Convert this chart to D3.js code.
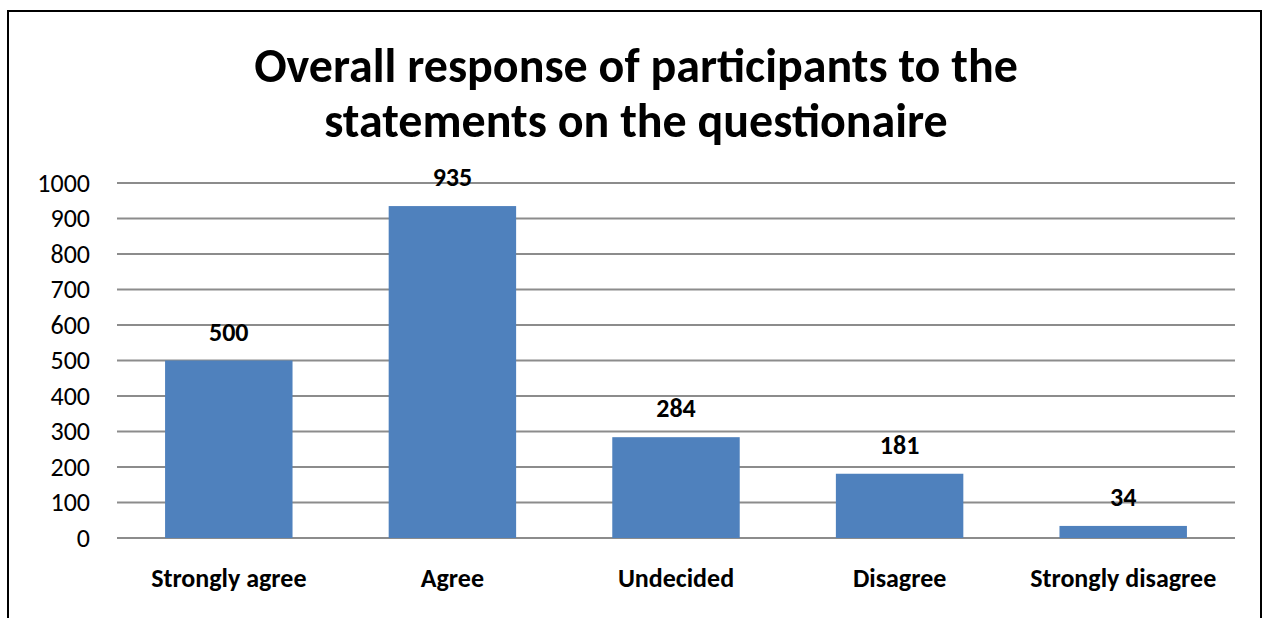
<!DOCTYPE html>
<html>
<head>
<meta charset="utf-8">
<script src="https://cdn.jsdelivr.net/npm/d3@7"></script>
<style>
  body { margin: 0; background: #fff; }
  svg text { font-family: Carlito, Calibri, 'Open Sans', sans-serif; }
</style>
</head>
<body>
<div id="chart"></div>
<script>
const categories = ['Strongly agree', 'Agree', 'Undecided', 'Disagree', 'Strongly disagree'];
const responses = [500, 935, 284, 181, 34];
const yTicks = [0, 100, 200, 300, 400, 500, 600, 700, 800, 900, 1000];
const titleLines = ['Overall response of participants to the', 'statements on the questionaire'];

const W = 1265, H = 618;
const plot = { left: 117, right: 1235, top: 183, bottom: 538 };
const fontStack = "Carlito, Calibri, 'Open Sans', sans-serif";

const svg = d3.select('#chart')
  .append('svg')
  .attr('width', W)
  .attr('height', H);

// outer frame (bottom edge is cut off in the picture)
svg.append('path')
  .attr('d', `M8,${H + 5} V11 H1261 V${H + 5}`)
  .attr('fill', 'none')
  .attr('stroke', '#000')
  .attr('stroke-width', 2);

const x = d3.scaleBand()
  .domain(categories)
  .range([plot.left, plot.right])
  .paddingInner(0.43)
  .paddingOuter(0.215);

const y = d3.scaleLinear()
  .domain([0, 1000])
  .range([plot.bottom, plot.top]);

// gridlines
svg.append('g')
  .selectAll('line')
  .data(yTicks)
  .enter()
  .append('line')
  .attr('x1', plot.left)
  .attr('x2', plot.right)
  .attr('y1', (d) => y(d))
  .attr('y2', (d) => y(d))
  .attr('stroke', '#8c8c8c')
  .attr('stroke-width', 2);

// y axis labels
const yAxis = svg.append('g')
  .attr('transform', `translate(${plot.left},0)`)
  .call(d3.axisLeft(y).tickValues(yTicks).tickFormat(d3.format('d')).tickSize(0).tickPadding(27));
yAxis.select('.domain').remove();
yAxis.selectAll('text')
  .style('font-size', '26px')
  .attr('fill', '#000')
  .style('font-family', fontStack);

// bars
svg.append('g')
  .selectAll('rect')
  .data(responses)
  .enter()
  .append('rect')
  .attr('x', (d, i) => x(categories[i]))
  .attr('y', (d) => y(d))
  .attr('width', x.bandwidth())
  .attr('height', (d) => y(0) - y(d))
  .attr('fill', '#4f81bd');

// value labels
svg.append('g')
  .selectAll('text')
  .data(responses)
  .enter()
  .append('text')
  .attr('x', (d, i) => x(categories[i]) + x.bandwidth() / 2)
  .attr('y', (d) => y(d) - 20)
  .attr('text-anchor', 'middle')
  .style('font-size', '26px')
  .style('font-weight', 'bold')
  .text((d) => d);

// category labels
const xAxis = svg.append('g')
  .attr('transform', `translate(0,${plot.bottom})`)
  .call(d3.axisBottom(x).tickSize(0).tickPadding(31));
xAxis.select('.domain').remove();
xAxis.selectAll('text')
  .style('font-size', '26px')
  .style('font-weight', 'bold')
  .attr('fill', '#000')
  .style('font-family', fontStack);

// title
const title = svg.append('g')
  .selectAll('text')
  .data(titleLines)
  .enter()
  .append('text')
  .attr('x', 636)
  .attr('y', (d, i) => 82 + i * 55)
  .attr('text-anchor', 'middle')
  .style('font-size', '36px')
  .style('font-weight', 'bold')
  .text((d) => d);

// fit first title line to the width seen in the picture
const w0 = title.node().getComputedTextLength();
title.style('font-size', `${36 * 764 / w0}px`);
</script>
</body>
</html>
